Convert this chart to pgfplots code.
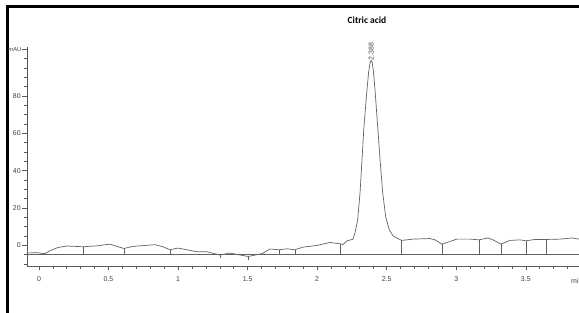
\documentclass[border=0pt]{standalone}
\usepackage{fontspec}
\setmainfont{Liberation Sans}
\newfontfamily\carlito{Carlito}
\usepackage{pgfplots}
\pgfplotsset{compat=1.18}
\definecolor{trace}{gray}{0.38}
\definecolor{axc}{gray}{0.35}
\definecolor{txt}{gray}{0.25}
\begin{document}
\begin{tikzpicture}
\path[use as bounding box] (0pt,0pt) rectangle (579pt,313pt);
\draw[black, line width=2.7pt] (7.8pt,0pt) -- (7.8pt,306.7pt) -- (579pt,306.7pt);
\begin{axis}[
  at={(27pt,47pt)}, anchor=south west,
  scale only axis, width=552pt, height=218.5pt,
  xmin=-0.086, xmax=3.882, ymin=-11, ymax=106,
  axis lines=left, axis line style={axc, line width=0.6pt, -},
  clip=false,
  xtick={0,0.5,1,1.5,2,2.5,3,3.5},
  xticklabels={0,0.5,1,1.5,2,2.5,3,3.5},
  minor xtick={0.1,0.2,0.3,0.4,0.6,0.7,0.8,0.9,1.1,1.2,1.3,1.4,1.6,1.7,1.8,1.9,2.1,2.2,2.3,2.4,2.6,2.7,2.8,2.9,3.1,3.2,3.3,3.4,3.6,3.7,3.8},
  ytick={0,20,40,60,80},
  yticklabels={0,20,40,60,80},
  minor ytick={-10,-5,5,10,15,25,30,35,45,50,55,65,70,75,85,90,95,100},
  extra y ticks={105},
  extra y tick labels={mAU},
  extra y tick style={yticklabel style={font=\fontsize{5.8}{6}\selectfont, xshift=0.6pt}},
  tick align=outside,
  major tick length=4.5pt, minor tick length=2.8pt,
  tick style={axc, line width=0.6pt},
  ticklabel style={font=\fontsize{7}{8}\selectfont, text=txt},
  xticklabel style={yshift=-2.5pt},
  yticklabel style={xshift=1.8pt},
  /pgf/number format/assume math mode=true,
]
% chromatogram trace
\addplot[trace, line width=0.7pt] coordinates {
(-0.086,-4.0) (-0.014,-3.9) (0.043,-4.4) (0.079,-2.8) (0.137,-1.1) (0.201,-0.3)
(0.316,-0.7) (0.417,-0.2) (0.510,0.7) (0.568,-0.7) (0.611,-1.6) (0.676,-0.5)
(0.834,0.4) (0.891,-0.7) (0.942,-2.3) (0.999,-1.4) (1.064,-2.3) (1.136,-3.4)
(1.208,-3.4) (1.301,-5.1) (1.373,-4.1) (1.503,-5.9) (1.603,-4.4) (1.661,-1.9)
(1.725,-2.3) (1.783,-1.8) (1.840,-2.3) (1.898,-0.9) (1.999,0.0) (2.092,1.6)
(2.164,0.9) (2.186,0.5) (2.214,2.5) (2.257,3.3) (2.272,6.8) (2.291,13.7)
(2.308,28.2) (2.322,45.8) (2.336,63.5) (2.356,81.7) (2.370,93) (2.380,97.8)
(2.388,99) (2.396,97.8) (2.406,92) (2.416,83) (2.435,63.5) (2.452,45.8)
(2.471,28.2) (2.492,15.5) (2.518,8.4) (2.545,5.2) (2.572,4.0) (2.608,2.7)
(2.689,3.4) (2.811,3.7) (2.847,3.0) (2.897,0.7) (3.005,3.4) (3.099,3.4)
(3.163,3.0) (3.228,4.0) (3.264,3.0) (3.321,0.7) (3.386,2.7) (3.458,3.0)
(3.501,2.5) (3.566,3.2) (3.645,3.2) (3.746,3.4) (3.832,4.0) (3.882,3.4)
};
% integration baseline
\addplot[trace, line width=0.6pt] coordinates {(-0.086,-5) (3.882,-5)};
% drop lines
\addplot[trace, line width=0.6pt, unbounded coords=jump] coordinates {
(0.316,-0.7) (0.316,-5) (0.316,nan)
(0.611,-1.6) (0.611,-5) (0.611,nan)
(0.942,-2.3) (0.942,-5) (0.942,nan)
(1.301,-4.4) (1.301,-6.8) (1.301,nan)
(1.503,-5.5) (1.503,-7.6) (1.503,nan)
(1.725,-2.3) (1.725,-5) (1.725,nan)
(1.840,-2.3) (1.840,-5) (1.840,nan)
(2.164,0.9) (2.164,-5) (2.164,nan)
(2.608,2.7) (2.608,-5) (2.608,nan)
(2.897,0.7) (2.897,-5) (2.897,nan)
(3.163,3.0) (3.163,-5) (3.163,nan)
(3.321,0.7) (3.321,-5) (3.321,nan)
(3.501,2.5) (3.501,-5) (3.501,nan)
(3.645,3.2) (3.645,-5)
};
\node[rotate=90, anchor=west, inner sep=1pt, font=\fontsize{7}{8}\selectfont, text=txt] at (axis cs:2.388,98.5) {2.388};
\end{axis}
\node[font=\carlito\bfseries\fontsize{9.5}{10}\selectfont] at (367pt,293pt) {Citric acid};
\node[anchor=west, inner sep=0pt, font=\fontsize{7}{8}\selectfont, text=txt] at (571pt,32pt) {min};
\end{tikzpicture}
\end{document}
